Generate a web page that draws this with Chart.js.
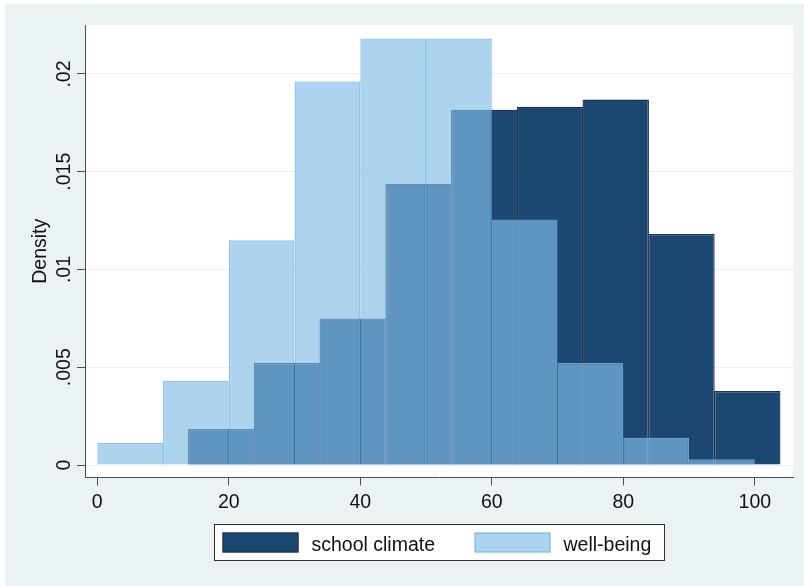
<!DOCTYPE html>
<html>
<head>
<meta charset="utf-8">
<script src="https://cdn.jsdelivr.net/npm/chart.js@4.4.1/dist/chart.umd.min.js"></script>
<style>
  html, body { margin: 0; padding: 0; background: #fff; }
  #wrap { width: 804px; height: 586px; }
</style>
</head>
<body>
<div id="wrap"><canvas id="hist" width="804" height="586"></canvas></div>
<script>
// Histogram bins: lower edges and densities for each variable
const binWidth = 10;
const schoolBinStarts = [13.85, 23.85, 33.85, 43.85, 53.85, 63.85, 73.85, 83.85, 93.85];
const schoolDensity   = [0.00184, 0.00522, 0.0075, 0.01439, 0.01817, 0.01833, 0.01869, 0.01182, 0.00379];
const wellBinStarts   = [0, 10, 20, 30, 40, 50, 60, 70, 80, 90];
const wellDensity     = [0.001125, 0.0043, 0.01149, 0.01962, 0.02182, 0.02182, 0.01256, 0.00522, 0.0014, 0.00029];

// Axis ticks and labels
const xTicks = [0, 20, 40, 60, 80, 100];
const yTicks = [0, 0.005, 0.01, 0.015, 0.02];
const yTickLabels = ['0', '.005', '.01', '.015', '.02'];
const seriesLabels = ['school climate', 'well-being'];

const X_MIN = -1.87, X_MAX = 105.81;
const Y_MIN = -0.000639, Y_MAX = 0.022506;
const AXIS_GAP = 12.5; // space between the zero line and the x axis

const FONT = "'Liberation Sans', Arial, Helvetica, sans-serif";
const FONT_SIZE = 19.5;
const NAVY = '#1c4770';
const NAVY_EDGE = '#1f3156';
const LIGHT = 'rgba(131,190,230,0.66)';
const LIGHT_EDGE = 'rgba(118,180,228,0.8)';
const BG = '#eaf2f3';

Chart.defaults.font.family = FONT;
Chart.defaults.font.size = FONT_SIZE;
Chart.defaults.color = '#111';

const toBars = (starts, vals) => starts.map((s, i) => ({ x: s + binWidth / 2, y: vals[i] }));
const fixTicks = list => scale => { scale.ticks = list.map(v => ({ value: v })); };
const barClip = { left: 2, top: 2, right: 2, bottom: -AXIS_GAP };

// Page backgrounds, rotated y tick labels and the boxed legend
const decor = {
  id: 'decor',
  beforeDraw(chart) {
    const { ctx, chartArea: a } = chart;
    ctx.save();
    ctx.fillStyle = '#fff';
    ctx.fillRect(0, 0, chart.width, chart.height);
    ctx.fillStyle = BG;
    ctx.fillRect(5, 4, chart.width - 5, chart.height - 4);
    ctx.fillStyle = '#fff';
    ctx.fillRect(a.left, a.top, a.right - a.left, a.bottom - a.top);
    ctx.restore();
  },
  afterDraw(chart) {
    const { ctx, chartArea: a } = chart;
    const y = chart.scales.y;
    ctx.save();
    ctx.fillStyle = '#111';
    ctx.font = `${FONT_SIZE}px ${FONT}`;
    ctx.textAlign = 'center';
    ctx.textBaseline = 'alphabetic';
    yTicks.forEach((v, i) => {
      const py = y.getPixelForValue(v);
      ctx.save();
      ctx.translate(70, py);
      ctx.rotate(-Math.PI / 2);
      ctx.fillText(yTickLabels[i], 0, 0);
      ctx.restore();
    });

    // legend
    const cx = (a.left + a.right) / 2;
    const bx = Math.round(cx - 225) + 0.5, by = 524.5, bw = 450, bh = 36;
    ctx.fillStyle = '#fff';
    ctx.fillRect(bx, by, bw, bh);
    ctx.strokeStyle = '#333';
    ctx.lineWidth = 1;
    ctx.strokeRect(bx, by, bw, bh);
    const items = [
      { x: bx + 8, fill: NAVY, edge: NAVY_EDGE, label: seriesLabels[0] },
      { x: bx + 260, fill: LIGHT, edge: LIGHT_EDGE, label: seriesLabels[1] }
    ];
    ctx.textAlign = 'left';
    items.forEach(it => {
      ctx.fillStyle = '#fff';
      ctx.fillRect(it.x, by + 8, 76, 20);
      ctx.fillStyle = it.fill;
      ctx.fillRect(it.x, by + 8, 76, 20);
      ctx.strokeStyle = it.edge;
      ctx.lineWidth = 1.2;
      ctx.strokeRect(it.x + 0.6, by + 8.6, 74.8, 18.8);
      ctx.fillStyle = '#111';
      ctx.fillText(it.label, it.x + 89, by + 26);
    });
    ctx.restore();
  }
};

new Chart(document.getElementById('hist'), {
  type: 'bar',
  data: {
    datasets: [
      {
        label: seriesLabels[0],
        data: toBars(schoolBinStarts, schoolDensity),
        xAxisID: 'x',
        backgroundColor: NAVY,
        borderColor: NAVY_EDGE,
        borderWidth: 1.3,
        inflateAmount: 0,
        barPercentage: 1.01,
        clip: barClip,
        order: 2
      },
      {
        label: seriesLabels[1],
        data: toBars(wellBinStarts, wellDensity),
        xAxisID: 'x2',
        backgroundColor: LIGHT,
        borderColor: LIGHT_EDGE,
        borderWidth: 1.4,
        inflateAmount: 0,
        clip: barClip,
        order: 1
      }
    ]
  },
  options: {
    responsive: false,
    animation: false,
    devicePixelRatio: 1,
    layout: { padding: { left: 0, top: 25, right: 11, bottom: 0 } },
    datasets: {
      bar: { barPercentage: 1, categoryPercentage: 1, grouped: false, borderSkipped: 'start' }
    },
    scales: {
      x: {
        type: 'linear',
        position: 'bottom',
        min: X_MIN, max: X_MAX,
        offset: false,
        afterBuildTicks: fixTicks(xTicks),
        afterFit: s => { s.height = 586 - 477.5; },
        grid: { offset: false, drawOnChartArea: false, tickLength: 8, tickColor: '#4d4d4d', tickWidth: 1 },
        border: { color: '#4d4d4d', width: 1 },
        ticks: { padding: 5, color: '#111', maxRotation: 0, font: { size: FONT_SIZE } }
      },
      x2: {
        type: 'linear',
        position: 'bottom',
        display: false,
        min: X_MIN, max: X_MAX,
        offset: false,
        grid: { offset: false },
        afterBuildTicks: fixTicks(xTicks)
      },
      y: {
        type: 'linear',
        position: 'left',
        min: Y_MIN, max: Y_MAX,
        afterBuildTicks: fixTicks(yTicks),
        afterFit: s => { s.width = 85; },
        grid: { color: BG, lineWidth: 1, tickLength: 8, tickColor: '#4d4d4d', tickWidth: 1 },
        border: { color: '#4d4d4d', width: 1 },
        ticks: { display: false },
        title: {
          display: true,
          text: 'Density',
          color: '#111',
          font: { size: FONT_SIZE },
          padding: { top: 29, bottom: 0 }
        }
      }
    },
    plugins: {
      legend: { display: false },
      tooltip: { enabled: false }
    }
  },
  plugins: [decor]
});
</script>
</body>
</html>
